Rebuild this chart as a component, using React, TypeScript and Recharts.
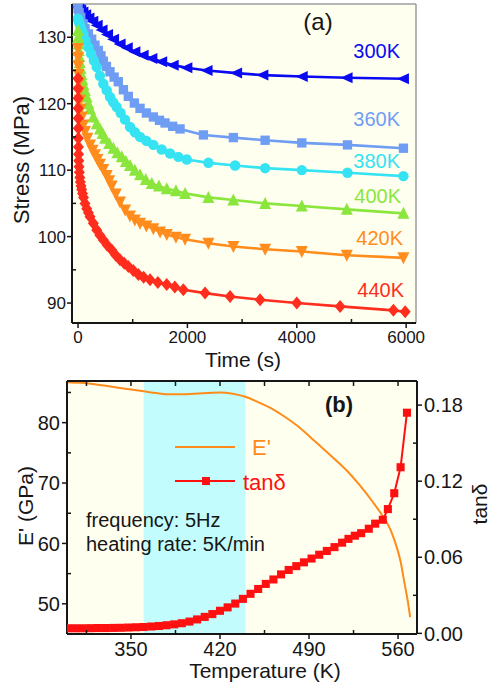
import React from 'react'
import {
  ComposedChart,
  Line,
  LineChart,
  ReferenceArea,
  ReferenceLine,
  XAxis,
  YAxis,
} from 'recharts'

const FONT = "'Liberation Sans', Arial, Helvetica, sans-serif"
const INK = '#161616'
const IVORY = '#fffff0'

// ---- panel (a): stress relaxation, time (s) vs stress (MPa)
const t300 = [0, 20, 50, 90, 140, 200, 270, 350, 440, 540, 650, 770, 900, 1040, 1190, 1350, 1530, 1740, 1990, 2360, 2900, 3380, 4100, 4920, 5950]
const s300 = [134.6, 134.4, 134.1, 133.8, 133.4, 132.9, 132.4, 131.8, 131.1, 130.4, 129.7, 129.0, 128.4, 127.8, 127.3, 126.8, 126.3, 125.8, 125.4, 125.0, 124.6, 124.3, 124.1, 123.9, 123.75]

const t360 = [0, 20, 50, 90, 128, 190, 250, 310, 372, 420, 463, 520, 585, 660, 737, 830, 920, 1030, 1134, 1250, 1378, 1490, 1591, 1730, 1866, 2293, 2841, 3421, 4092, 4927, 5950]
const s360 = [134.3, 133.7, 133.0, 132.0, 131.3, 130.5, 129.7, 128.8, 128.0, 127.2, 126.4, 125.6, 124.8, 124.0, 123.3, 122.1, 121.1, 120.1, 119.3, 118.6, 118.0, 117.5, 117.1, 116.6, 116.2, 115.3, 114.9, 114.5, 114.1, 113.8, 113.3]

const t380 = [0, 10, 25, 45, 70, 97, 140, 188, 240, 290, 342, 400, 463, 525, 585, 645, 707, 780, 860, 951, 1040, 1134, 1250, 1378, 1530, 1683, 1835, 1988, 2384, 2872, 3421, 4092, 4927, 5950]
const s380 = [132.8, 132.5, 132.1, 131.6, 131.0, 130.5, 129.5, 128.5, 127.5, 126.5, 125.5, 124.2, 123.0, 122.0, 121.0, 120.2, 119.5, 118.6, 117.6, 116.5, 115.7, 115.0, 114.4, 113.8, 113.1, 112.5, 112.0, 111.6, 111.1, 110.7, 110.3, 110.0, 109.6, 109.1]

const t400 = [0, 4, 8, 14, 22, 32, 45, 62, 80, 100, 125, 158, 190, 220, 280, 342, 402, 450, 494, 570, 646, 720, 800, 875, 951, 1040, 1134, 1240, 1348, 1480, 1622, 1790, 1957, 2384, 2841, 3421, 4092, 4915, 5950]
const s400 = [131.0, 130.0, 129.0, 128.0, 127.1, 126.2, 125.3, 124.4, 123.6, 122.8, 122.0, 121.0, 120.0, 119.2, 118.0, 117.0, 116.2, 115.5, 114.8, 114.0, 113.3, 112.6, 112.0, 111.3, 110.7, 110.0, 109.3, 108.6, 108.0, 107.6, 107.2, 106.9, 106.5, 105.9, 105.5, 105.0, 104.6, 104.1, 103.5]

const t420 = [0, 3, 6, 10, 16, 24, 35, 50, 70, 97, 128, 170, 220, 265, 311, 355, 402, 460, 524, 570, 616, 690, 768, 860, 951, 1040, 1134, 1250, 1378, 1500, 1622, 1790, 1957, 2384, 2841, 3421, 4092, 4915, 5950]
const s420 = [128.3, 127.0, 125.7, 124.4, 123.1, 121.8, 120.5, 119.2, 118.0, 116.8, 115.8, 114.8, 113.8, 113.0, 112.3, 111.6, 110.9, 110.1, 109.2, 108.4, 107.6, 106.4, 105.2, 104.0, 103.1, 102.5, 102.0, 101.6, 101.2, 100.7, 100.3, 99.9, 99.6, 99.0, 98.5, 98.1, 97.75, 97.2, 96.8]

const t440 = [0, 1, 2, 3, 4, 5, 6, 8, 10, 14, 19, 25, 33, 43, 55, 67, 82, 100, 128, 160, 190, 220, 280, 342, 400, 463, 535, 616, 690, 768, 845, 920, 1010, 1103, 1200, 1317, 1460, 1622, 1770, 1926, 2323, 2780, 3329, 4000, 4792, 5767, 5982]
const s440 = [123.8, 122.3, 120.8, 119.3, 117.8, 116.3, 114.8, 113.5, 112.4, 111.4, 110.5, 109.7, 108.9, 108.2, 107.6, 107.1, 106.5, 105.9, 105.0, 104.2, 103.6, 103.0, 102.0, 101.0, 100.2, 99.5, 98.7, 98.0, 97.2, 96.5, 96.0, 95.5, 94.9, 94.3, 93.9, 93.5, 93.1, 92.8, 92.4, 92.0, 91.5, 91.0, 90.5, 90.0, 89.5, 88.9, 88.7]

const timeTicks = [0, 1000, 2000, 3000, 4000, 5000, 6000]
const timeMajor = [0, 2000, 4000, 6000]
const stressTicks = [90, 95, 100, 105, 110, 115, 120, 125, 130]
const stressMajor = [90, 100, 110, 120, 130]

// ---- panel (b): DMA, temperature (K)
const tempE = [300, 310, 320, 330, 340, 350, 360, 370, 380, 390, 400, 410, 420, 430, 440, 450, 460, 470, 480, 490, 500, 510, 520, 530, 540, 548, 554, 558, 562, 565, 568, 569.5]
const modE = [86.7, 86.6, 86.4, 86.1, 85.8, 85.5, 85.2, 84.9, 84.7, 84.7, 84.8, 84.9, 85.0, 84.8, 84.3, 83.4, 82.4, 81.1, 79.6, 77.8, 75.9, 74.0, 72.0, 69.6, 66.9, 64.5, 62.3, 60.0, 57.0, 53.5, 50.0, 47.8]

const tempTan = [300, 306, 312, 318, 324, 330, 336, 342, 348, 354, 360, 366, 372, 378, 384, 390, 396, 402, 408, 414, 420, 426, 432, 438, 444, 450, 456, 462, 468, 474, 480, 486, 492, 498, 504, 510, 516, 521, 526, 531, 537, 542, 548, 552, 557, 562, 567]
const tanD = [0.004, 0.004, 0.004, 0.0041, 0.0042, 0.0042, 0.0043, 0.0044, 0.0046, 0.0048, 0.005, 0.0054, 0.0058, 0.0064, 0.0071, 0.008, 0.0093, 0.011, 0.013, 0.0152, 0.0178, 0.0205, 0.0235, 0.0272, 0.0312, 0.035, 0.039, 0.0425, 0.0465, 0.05, 0.053, 0.056, 0.059, 0.062, 0.065, 0.068, 0.0715, 0.0745, 0.077, 0.079, 0.0825, 0.0865, 0.0896, 0.098, 0.1105, 0.131, 0.174]

const tempTicks = [315, 350, 385, 420, 455, 490, 525, 560]
const tempMajor = [350, 420, 490, 560]
const eTicks = [50, 55, 60, 65, 70, 75, 80, 85]
const eMajor = [50, 60, 70, 80]
const tanTicks = [0, 0.03, 0.06, 0.09, 0.12, 0.15, 0.18]
const tanMajor = [0, 0.06, 0.12, 0.18]

const series = [
  { name: '300K', t: t300, s: s300, color: '#0a0af2', shape: 'left' },
  { name: '360K', t: t360, s: s360, color: '#6f9df4', shape: 'square' },
  { name: '380K', t: t380, s: s380, color: '#35e3f3', shape: 'circle' },
  { name: '400K', t: t400, s: s400, color: '#8ae63c', shape: 'up' },
  { name: '420K', t: t420, s: s420, color: '#ff8c1c', shape: 'down' },
  { name: '440K', t: t440, s: s440, color: '#ff2d1e', shape: 'diamond' },
]

const eData = tempE.map((T, i) => ({ T, v: modE[i] }))
const tanData = tempTan.map((T, i) => ({ T, v: tanD[i] }))

const marker = (shape: string, color: string, size: number) => (p: any) => {
  const { cx, cy, index } = p
  if (cx == null || cy == null) return <g key={index} />
  const h = size / 2
  if (shape === 'square') {
    const q = h * 0.85
    return <rect key={index} x={cx - q} y={cy - q} width={2 * q} height={2 * q} fill={color} />
  }
  if (shape === 'circle') return <circle key={index} cx={cx} cy={cy} r={h * 0.95} fill={color} />
  let pts = ''
  if (shape === 'left') pts = `${cx - h - 1},${cy} ${cx + h},${cy - h} ${cx + h},${cy + h}`
  if (shape === 'up') pts = `${cx},${cy - h - 1} ${cx - h - 0.5},${cy + h} ${cx + h + 0.5},${cy + h}`
  if (shape === 'down') pts = `${cx},${cy + h + 1} ${cx - h - 0.5},${cy - h} ${cx + h + 0.5},${cy - h}`
  if (shape === 'diamond') pts = `${cx},${cy - h - 1} ${cx + h},${cy} ${cx},${cy + h + 1} ${cx - h},${cy}`
  return <polygon key={index} points={pts} fill={color} />
}

// ticks: labelled ones point outward, minor ones inward
const makeTick =
  (side: string, majors: number[], fmt: (v: number) => string, fontSize: number, gap: number) =>
  (p: any) => {
    const { x, y, payload } = p
    const v = payload.value
    const major = majors.some((m) => Math.abs(m - v) < 1e-9)
    const st = { stroke: INK, strokeWidth: 1.5 }
    if (side === 'top') return <line x1={x} x2={x} y1={y} y2={y + 5} {...st} />
    if (side === 'bottom')
      return (
        <g>
          <line x1={x} x2={x} y1={y} y2={major ? y + 5 : y - 4} {...st} />
          {major && (
            <text x={x} y={y + gap} textAnchor="middle" fontSize={fontSize} fill={INK} fontFamily={FONT}>
              {fmt(v)}
            </text>
          )}
        </g>
      )
    if (side === 'left')
      return (
        <g>
          <line x1={major ? x - 5 : x + 4} x2={x} y1={y} y2={y} {...st} />
          {major && (
            <text x={x - gap} y={y} dy="0.36em" textAnchor="end" fontSize={fontSize} fill={INK} fontFamily={FONT}>
              {fmt(v)}
            </text>
          )}
        </g>
      )
    return (
      <g>
        <line x1={major ? x + 5 : x - 4} x2={x} y1={y} y2={y} {...st} />
        {major && (
          <text x={x + gap} y={y} dy="0.36em" textAnchor="start" fontSize={fontSize} fill={INK} fontFamily={FONT}>
            {fmt(v)}
          </text>
        )}
      </g>
    )
  }

const axisDark = { stroke: INK, strokeWidth: 2 }

const StressPanel = () => (
  <LineChart width={492} height={370} margin={{ top: 4, right: 76, left: 0, bottom: 0 }}>
    <XAxis
      dataKey="t"
      type="number"
      domain={[-110, 6180]}
      allowDataOverflow
      ticks={timeTicks}
      interval={0}
      height={47}
      tickSize={0}
      tickMargin={0}
      axisLine={axisDark}
      tick={makeTick('bottom', timeMajor, (v) => String(v), 17, 20)}
    />
    <YAxis
      type="number"
      domain={[87, 135]}
      allowDataOverflow
      ticks={stressTicks}
      interval={0}
      width={72}
      tickSize={0}
      tickMargin={0}
      axisLine={axisDark}
      tick={makeTick('left', stressMajor, (v) => String(v), 17, 6)}
    />
    <ReferenceArea x1={-110} x2={6180} y1={87} y2={135} fill={IVORY} fillOpacity={1} stroke="none" />
    <ReferenceLine y={135} stroke="#9c9c9c" strokeWidth={1.5} />
    <ReferenceLine x={6180} stroke="#9c9c9c" strokeWidth={1.5} />
    {series.map((sr) => (
      <Line
        key={sr.name}
        data={sr.t.map((t, i) => ({ t, s: sr.s[i] }))}
        dataKey="s"
        type="linear"
        stroke={sr.color}
        strokeWidth={2.6}
        dot={marker(sr.shape, sr.color, 11)}
        activeDot={false}
        isAnimationActive={false}
      />
    ))}
  </LineChart>
)

const DmaPanel = () => (
  <ComposedChart width={492} height={320} margin={{ top: 10, right: 0, left: 0, bottom: 0 }}>
    <XAxis
      xAxisId="bottom"
      dataKey="T"
      type="number"
      domain={[299.7, 574.9]}
      allowDataOverflow
      ticks={tempTicks}
      interval={0}
      height={56}
      tickSize={0}
      tickMargin={0}
      axisLine={axisDark}
      tick={makeTick('bottom', tempMajor, (v) => String(v), 20, 22)}
    />
    <XAxis
      xAxisId="top"
      orientation="top"
      dataKey="T"
      type="number"
      domain={[299.7, 574.9]}
      allowDataOverflow
      ticks={tempTicks}
      interval={0}
      height={1}
      tickSize={0}
      tickMargin={0}
      axisLine={axisDark}
      tick={makeTick('top', tempMajor, (v) => String(v), 20, 0)}
    />
    <YAxis
      yAxisId="left"
      type="number"
      domain={[45, 86.9]}
      allowDataOverflow
      ticks={eTicks}
      interval={0}
      width={67}
      tickSize={0}
      tickMargin={0}
      axisLine={axisDark}
      tick={makeTick('left', eMajor, (v) => String(v), 20, 7)}
    />
    <YAxis
      yAxisId="right"
      orientation="right"
      type="number"
      domain={[-0.0005, 0.199]}
      allowDataOverflow
      ticks={tanTicks}
      interval={0}
      width={75}
      tickSize={0}
      tickMargin={0}
      axisLine={axisDark}
      tick={makeTick('right', tanMajor, (v) => v.toFixed(2), 20, 7)}
    />
    <ReferenceArea xAxisId="bottom" yAxisId="left" x1={299.7} x2={574.9} y1={45} y2={86.9} fill={IVORY} fillOpacity={1} stroke="none" />
    <ReferenceArea xAxisId="bottom" yAxisId="left" x1={360} x2={440} fill="#c2fcfc" fillOpacity={1} stroke="none" />
    <Line
      xAxisId="bottom"
      yAxisId="left"
      data={eData}
      dataKey="v"
      type="monotone"
      stroke="#ff8c1a"
      strokeWidth={2}
      dot={false}
      activeDot={false}
      isAnimationActive={false}
    />
    <Line
      xAxisId="bottom"
      yAxisId="right"
      data={tanData}
      dataKey="v"
      type="linear"
      stroke="#ff1010"
      strokeWidth={2}
      dot={marker('square', '#ff1010', 9.5)}
      activeDot={false}
      isAnimationActive={false}
    />
  </ComposedChart>
)

const labelPos = [
  { x: 400, y: 58 },
  { x: 400, y: 126 },
  { x: 400, y: 168 },
  { x: 401, y: 203 },
  { x: 403, y: 245 },
  { x: 404, y: 297 },
]

const App = () => (
  <div style={{ position: 'absolute', left: 0, top: 0, width: 492, height: 690, background: '#fff', fontFamily: FONT }}>
    <div style={{ position: 'absolute', left: 0, top: 0 }}>
      <StressPanel />
    </div>
    <div style={{ position: 'absolute', left: 0, top: 370 }}>
      <DmaPanel />
    </div>
    <svg
      width={492}
      height={690}
      style={{ position: 'absolute', left: 0, top: 0, pointerEvents: 'none' }}
      fontFamily={FONT}
    >
      <text transform="translate(21,160) rotate(-90)" textAnchor="middle" dominantBaseline="central" fontSize={22} fill={INK}>
        Stress (MPa)
      </text>
      <text x={243} y={367} textAnchor="middle" fontSize={21} fill={INK}>
        Time (s)
      </text>
      <text x={318} y={30} textAnchor="middle" fontSize={24} fill={INK}>
        (a)
      </text>
      {series.map((sr, i) => (
        <text key={sr.name} x={labelPos[i].x} y={labelPos[i].y} textAnchor="end" fontSize={20} fill={sr.color}>
          {sr.name}
        </text>
      ))}

      <text x={339} y={412} textAnchor="middle" fontSize={22} fontWeight="bold" fill={INK}>
        (b)
      </text>
      <line x1={175} x2={235} y1={447} y2={447} stroke="#ff8c1a" strokeWidth={2} />
      <text x={252} y={455} fontSize={22} fill="#ff8c1a">
        E'
      </text>
      <line x1={175} x2={235} y1={481} y2={481} stroke="#ff1010" strokeWidth={2} />
      <rect x={202} y={477} width={8} height={8} fill="#ff1010" />
      <text x={243} y={490} fontSize={22} fill="#ff1010">
        tanδ
      </text>
      <text x={86} y={527} fontSize={20} fill={INK}>
        frequency: 5Hz
      </text>
      <text x={86} y={551} fontSize={20} fill={INK}>
        heating rate: 5K/min
      </text>
      <text transform="translate(25,506) rotate(-90)" textAnchor="middle" dominantBaseline="central" fontSize={21} fill={INK}>
        E' (GPa)
      </text>
      <text transform="translate(479,504) rotate(-90)" textAnchor="middle" dominantBaseline="central" fontSize={21} fill={INK}>
        tanδ
      </text>
      <text x={265} y={678} textAnchor="middle" fontSize={21} fill={INK}>
        Temperature (K)
      </text>
    </svg>
  </div>
)

export default App
